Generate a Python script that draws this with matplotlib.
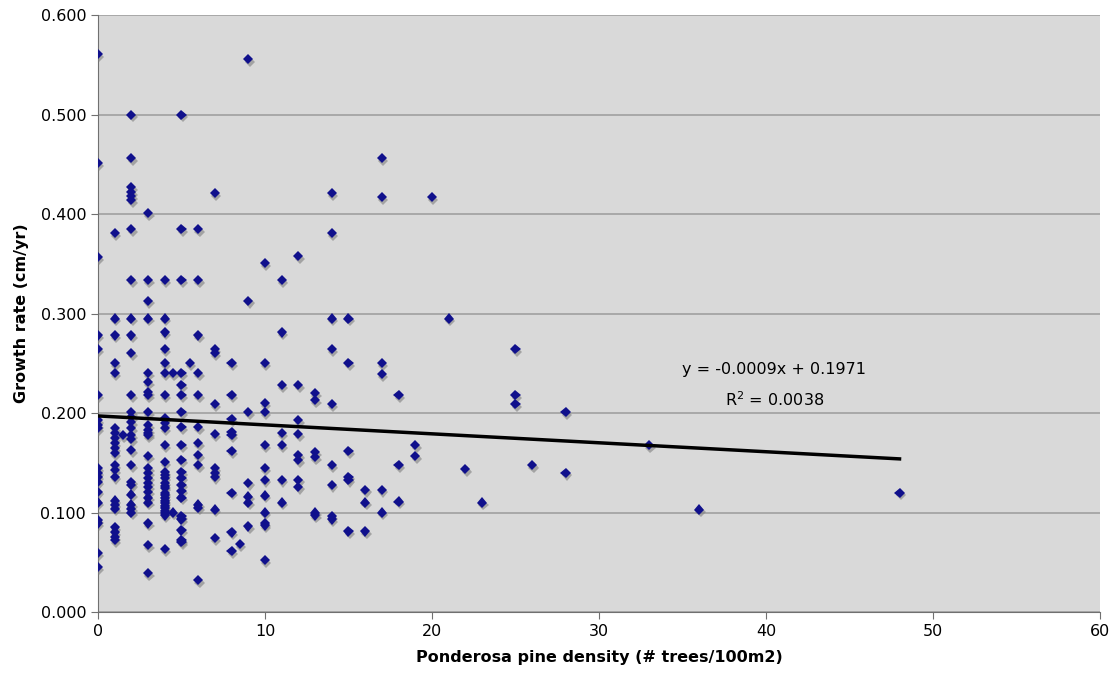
import numpy as np
import matplotlib.pyplot as plt
import matplotlib.patheffects as pe

# density (# trees/100m2) values and the growth rates (cm/yr) seen at each
densities = [0, 1, 1.5, 2, 3, 4, 4.5, 5, 5.5, 6, 7, 8, 8.5, 9, 10, 11, 12, 13,
             14, 15, 16, 17, 18, 19, 20, 21, 22, 23, 25, 26, 28, 33, 36, 48]
rates = [
    [0.561, 0.451, 0.357, 0.278, 0.264, 0.218, 0.193, 0.188, 0.185, 0.145,
     0.140, 0.136, 0.131, 0.121, 0.110, 0.092, 0.089, 0.059, 0.045],
    [0.381, 0.295, 0.278, 0.250, 0.240, 0.185, 0.180, 0.175, 0.170, 0.165,
     0.160, 0.148, 0.143, 0.136, 0.112, 0.108, 0.104, 0.085, 0.080, 0.075, 0.072],
    [0.178],
    [0.500, 0.456, 0.427, 0.422, 0.418, 0.414, 0.385, 0.334, 0.295, 0.278,
     0.260, 0.218, 0.201, 0.196, 0.191, 0.185, 0.178, 0.174, 0.163, 0.148,
     0.131, 0.128, 0.118, 0.108, 0.104, 0.100],
    [0.401, 0.334, 0.313, 0.295, 0.240, 0.231, 0.221, 0.218, 0.201, 0.188,
     0.183, 0.180, 0.178, 0.157, 0.145, 0.140, 0.135, 0.130, 0.126, 0.121,
     0.115, 0.110, 0.089, 0.067, 0.039],
    [0.334, 0.295, 0.281, 0.264, 0.250, 0.240, 0.218, 0.195, 0.190, 0.185,
     0.168, 0.151, 0.141, 0.138, 0.135, 0.130, 0.127, 0.125, 0.120, 0.118,
     0.115, 0.112, 0.110, 0.107, 0.105, 0.102, 0.100, 0.097, 0.063],
    [0.240, 0.100],
    [0.500, 0.385, 0.334, 0.240, 0.228, 0.218, 0.201, 0.186, 0.168, 0.153,
     0.141, 0.135, 0.128, 0.122, 0.115, 0.096, 0.093, 0.082, 0.072, 0.070],
    [0.250],
    [0.385, 0.334, 0.278, 0.240, 0.218, 0.186, 0.170, 0.158, 0.148, 0.108,
     0.105, 0.032],
    [0.421, 0.264, 0.260, 0.209, 0.179, 0.145, 0.140, 0.136, 0.103, 0.074],
    [0.250, 0.218, 0.194, 0.181, 0.178, 0.162, 0.120, 0.080, 0.061],
    [0.068],
    [0.556, 0.313, 0.201, 0.130, 0.116, 0.110, 0.086],
    [0.351, 0.250, 0.210, 0.201, 0.168, 0.145, 0.133, 0.117, 0.100, 0.089,
     0.087, 0.052],
    [0.334, 0.281, 0.228, 0.180, 0.168, 0.133, 0.110],
    [0.358, 0.228, 0.193, 0.179, 0.158, 0.153, 0.133, 0.126],
    [0.220, 0.213, 0.161, 0.156, 0.100, 0.097],
    [0.421, 0.381, 0.295, 0.264, 0.209, 0.148, 0.128, 0.096, 0.093],
    [0.295, 0.250, 0.162, 0.136, 0.133, 0.081],
    [0.123, 0.110, 0.081],
    [0.456, 0.417, 0.250, 0.239, 0.123, 0.100],
    [0.218, 0.148, 0.111],
    [0.168, 0.157],
    [0.417],
    [0.295],
    [0.144],
    [0.110],
    [0.264, 0.218, 0.209],
    [0.148],
    [0.201, 0.140],
    [0.168],
    [0.103],
    [0.120],
]

# trendline as reported by the spreadsheet
slope = -0.0009
intercept = 0.1971
r2 = 0.0038

x = np.concatenate([[d] * len(r) for d, r in zip(densities, rates)])
y = np.concatenate(rates)

fig = plt.figure(figsize=(11.17, 6.79), dpi=100)
ax = fig.add_axes([0.0877, 0.0987, 0.897, 0.879])
ax.set_facecolor('#d9d9d9')

ax.plot(x, y, linestyle='none', marker='D', markersize=5.2,
        color='#10108c', markeredgewidth=0, zorder=3,
        path_effects=[pe.SimplePatchShadow(offset=(1, -2), shadow_rgbFace='#808080', alpha=0.6),
                      pe.Normal()])

x_fit = np.array([0, x.max()])
ax.plot(x_fit, slope * x_fit + intercept, color='black', linewidth=2.5, zorder=4)

ax.text(40.5, 0.244, f'y = {slope:.4f}x + {intercept:.4f}', ha='center', va='center', fontsize=11.5)
ax.text(40.5, 0.213, f'R$^2$ = {r2:.4f}', ha='center', va='center', fontsize=11.5)

ax.set_xlim(0, 60)
ax.set_ylim(0, 0.6)
ax.set_xticks(range(0, 61, 10))
ax.set_yticks(np.arange(0, 0.61, 0.1))
ax.yaxis.set_major_formatter(plt.FormatStrFormatter('%.3f'))
ax.grid(axis='y', color='#a0a0a0', linewidth=1.2)
ax.set_axisbelow(True)
for s in ['top', 'right']:
    ax.spines[s].set_visible(False)
for s in ['left', 'bottom']:
    ax.spines[s].set_color('#707070')
ax.tick_params(direction='out', length=5, color='#707070', labelsize=11.5)

ax.set_xlabel('Ponderosa pine density (# trees/100m2)', fontsize=11.5, fontweight='bold', labelpad=8)
ax.set_ylabel('Growth rate (cm/yr)', fontsize=11.5, fontweight='bold', labelpad=8)

fig.savefig('out.png', dpi=100)
